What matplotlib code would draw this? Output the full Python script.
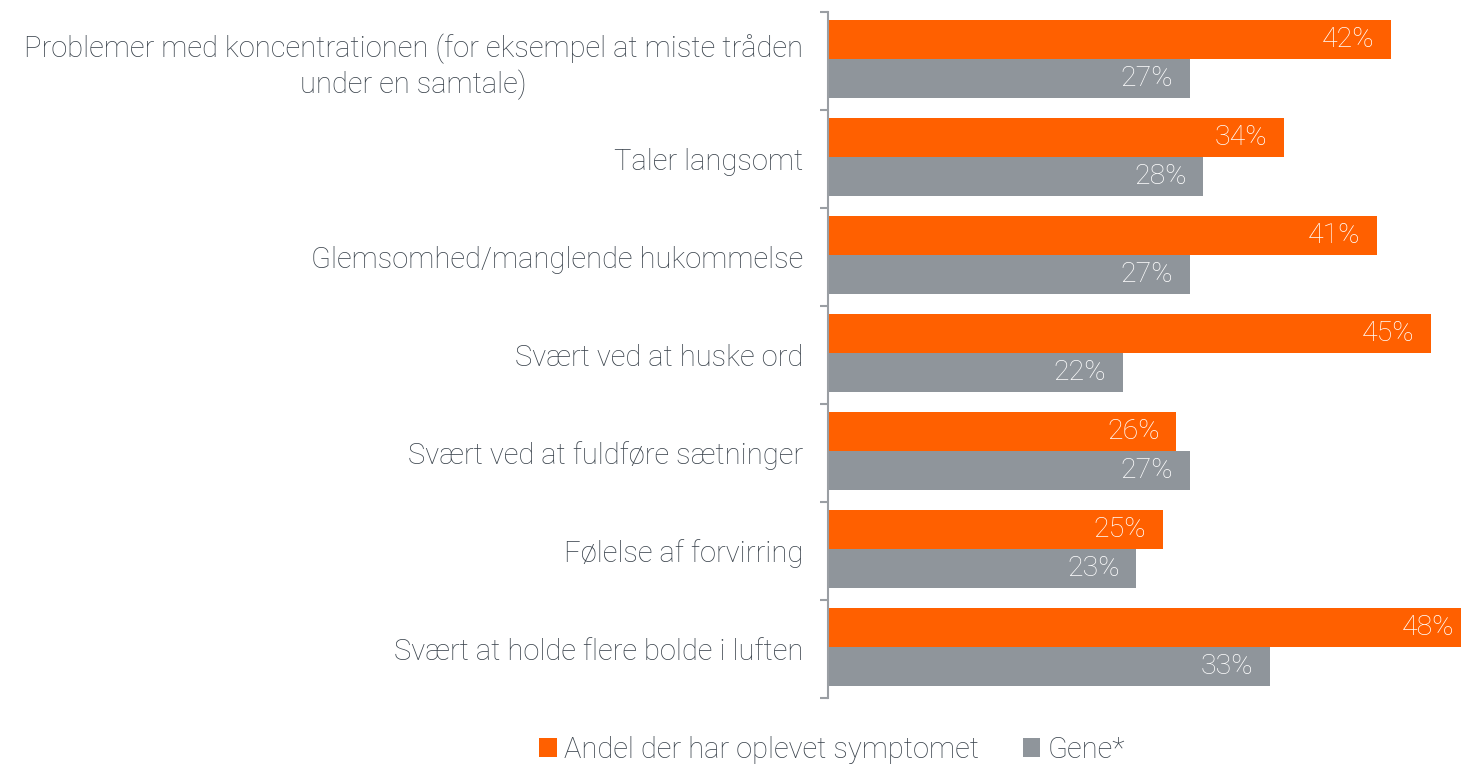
import numpy as np
import matplotlib
matplotlib.use("Agg")
import matplotlib.pyplot as plt

# data
categories = [
    "Problemer med koncentrationen (for eksempel at miste tråden\nunder en samtale)",
    "Taler langsomt",
    "Glemsomhed/manglende hukommelse",
    "Svært ved at huske ord",
    "Svært ved at fuldføre sætninger",
    "Følelse af forvirring",
    "Svært at holde flere bolde i luften",
]
experienced = [42, 34, 41, 45, 26, 25, 48]
gene = [27, 28, 27, 22, 27, 23, 33]
series_names = ["Andel der har oplevet symptomet", "Gene*"]

ORANGE = "#ff6000"
GREY = "#8f959b"
TEXT = "#3a434c"

plt.rcParams["font.family"] = ["Roboto", "DejaVu Sans"]

W, H = 1461, 764
fig = plt.figure(figsize=(W / 100, H / 100), dpi=100)

# axes spans the category boundaries; 13.4 px per percent, the last bar runs off the edge
x0, ytop, ybot = 828, 12, 698
xmax = 48
ax = fig.add_axes([x0 / W, 1 - ybot / H, xmax * 13.4 / W, (ybot - ytop) / H])

y = np.arange(len(categories))
h = 0.4
b1 = ax.barh(y - 0.22, experienced, height=h, color=ORANGE, label=series_names[0])
b2 = ax.barh(y + 0.18, gene, height=h, color=GREY, label=series_names[1])

for bars in (b1, b2):
    for rect in bars:
        v = rect.get_width()
        ax.annotate(f"{v:.0f}%", (v, rect.get_y() + rect.get_height() / 2),
                    xytext=(-12, 0), textcoords="offset points",
                    ha="right", va="center", color="white",
                    fontsize=20.5, fontweight="light")

ax.set_xlim(0, xmax)
ax.set_ylim(len(categories) - 0.5, -0.5)

for s in ("top", "right", "bottom"):
    ax.spines[s].set_visible(False)
ax.spines["left"].set_color("#9a9ea3")
ax.spines["left"].set_linewidth(1.5)
ax.set_xticks([])

ax.set_yticks(y)
ax.set_yticklabels(categories, fontsize=21, color=TEXT, fontweight="light")
ax.tick_params(axis="y", which="major", length=0, pad=18)
ax.set_yticks(np.arange(len(categories) + 1) - 0.5, minor=True)
ax.tick_params(axis="y", which="minor", length=6, width=1.5, color="#9a9ea3")
for lbl in ax.get_yticklabels():
    lbl.set_multialignment("center")

fig.legend(handles=[b1, b2], loc="center", bbox_to_anchor=(832 / W, 1 - 750 / H),
           ncol=2, frameon=False, handlelength=0.6, handleheight=0.6,
           handletextpad=0.25, columnspacing=1.5, labelcolor=TEXT,
           prop={"weight": "light", "size": 21})

fig.savefig("out.png", dpi=100)
